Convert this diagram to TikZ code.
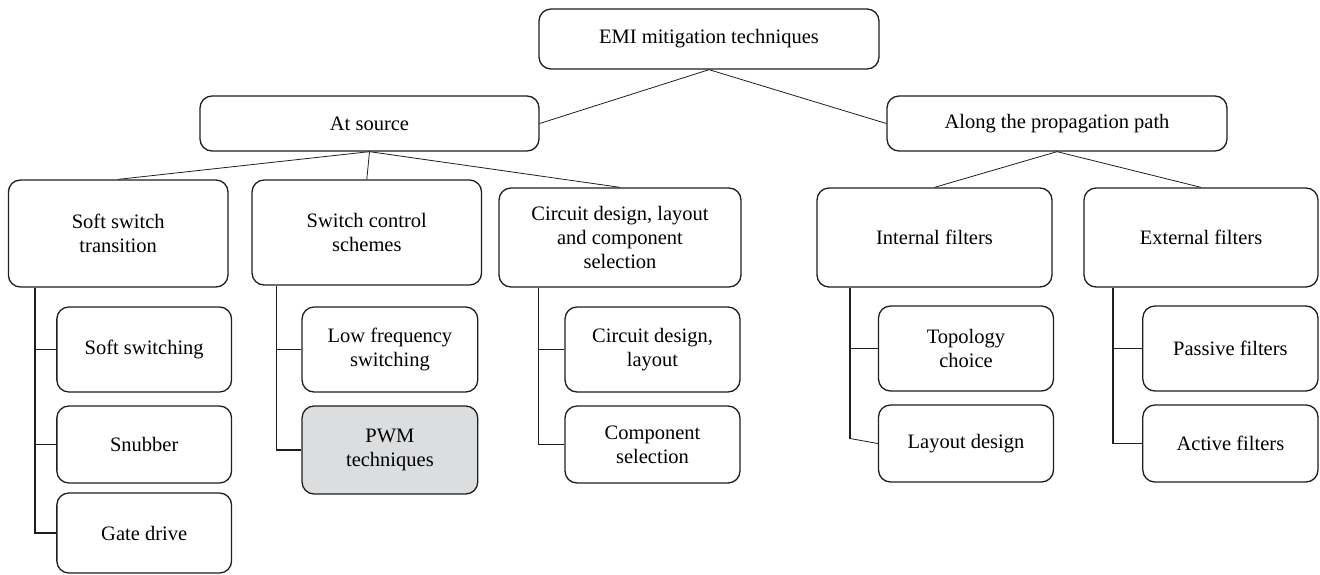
\documentclass[tikz,border=0pt]{standalone}
\usepackage{fontspec}
\setmainfont{Liberation Serif}
\definecolor{pwmgray}{RGB}{220,221,223}
\definecolor{inkline}{RGB}{30,30,30}
\begin{document}
\begin{tikzpicture}[x=1pt,y=-1pt,
  box/.style={draw=inkline, line width=1.3pt, rounded corners=12pt, inner sep=0pt,
    align=center, font=\fontsize{20.5}{24}\selectfont},
  link/.style={draw=inkline, line width=0.8pt},
  elbow/.style={draw=inkline, line width=1.3pt},
  elbowthin/.style={draw=inkline, line width=0.8pt}]
\useasboundingbox (0,0) rectangle (1320,574);

% top level
\node[box, minimum width=340pt, minimum height=60pt] (emi) at (709,39) {EMI mitigation techniques};

% second level
\node[box, minimum width=339pt, minimum height=55pt] (src) at (369.5,123.5) {At source};
\node[box, minimum width=340pt, minimum height=55pt] (path) at (1057,123.5) {Along the propagation path};

% third level
\node[box, minimum width=219.6pt, minimum height=107pt] (sst) at (118.2,233.5) {Soft switch\\transition};
\node[box, minimum width=229.5pt, minimum height=105pt] (scs) at (366.8,232.5) {Switch control\\schemes};
\node[box, minimum width=242pt, minimum height=99pt] (cdl) at (620,237.5) {Circuit design, layout\\and component\\selection};
\node[box, minimum width=235pt, minimum height=99pt] (inf) at (934.5,237.5) {Internal filters};
\node[box, minimum width=234pt, minimum height=99pt] (exf) at (1201,237.5) {External filters};

% leaves
\node[box, minimum width=174.7pt, minimum height=85pt] (sosw) at (144.2,349.5) {Soft switching};
\node[box, minimum width=174.7pt, minimum height=77pt] (snub) at (144.2,444.5) {Snubber};
\node[box, minimum width=174.7pt, minimum height=80pt] (gate) at (144.2,533) {Gate drive};

\node[box, minimum width=175.7pt, minimum height=85pt] (lfs) at (389.9,349.5) {Low frequency\\switching};
\node[box, minimum width=175.7pt, minimum height=88pt, fill=pwmgray] (pwm) at (389.9,450) {PWM\\techniques};

\node[box, minimum width=175pt, minimum height=85pt] (cdes) at (652.5,349.5) {Circuit design,\\layout};
\node[box, minimum width=175pt, minimum height=77pt] (csel) at (652.5,444.5) {Component\\selection};

\node[box, minimum width=175pt, minimum height=85pt] (topo) at (966,348.5) {Topology\\choice};
\node[box, minimum width=175pt, minimum height=77pt] (lay) at (966,443.5) {Layout design};

\node[box, minimum width=175.2pt, minimum height=85pt] (pasf) at (1230.4,348.5) {Passive filters};
\node[box, minimum width=175.2pt, minimum height=77pt] (actf) at (1230.4,443.5) {Active filters};

% tree links
\draw[link] (emi.south) -- (src.east);
\draw[link] (emi.south) -- (path.west);
\draw[link] (src.south) -- (sst.north);
\draw[link] (src.south) -- (scs.north);
\draw[link] (src.south) -- (cdl.north);
\draw[link] (path.south) -- (inf.north);
\draw[link] (path.south) -- (exf.north);

% vertical rails of the elbow connectors
\coordinate (r1) at (35,0);
\coordinate (r2) at (276.5,0);
\coordinate (r3) at (538.8,0);
\coordinate (r4) at (850,0);
\coordinate (r5) at (1113,0);

\draw[elbow] (sst.south -| r1) |- (gate.west);
\draw[elbow] (sst.south -| r1) |- (snub.west);
\draw[elbowthin] (sosw.west -| r1) -- (sosw.west);

\draw[elbow] (scs.south -| r2) |- (pwm.west);
\draw[elbowthin] (lfs.west -| r2) -- (lfs.west);

\draw[elbow] (cdl.south -| r3) |- (csel.west);
\draw[elbowthin] (cdes.west -| r3) -- (cdes.west);

\draw[elbow] (inf.south -| r4) |- (topo.west);
\draw[elbow] (inf.south -| r4) -- ([yshift=5pt]lay.west -| r4);
\draw[elbowthin] ([yshift=5pt]lay.west -| r4) -- (lay.west);

\draw[elbow] (exf.south -| r5) |- (actf.west);
\draw[elbow] (exf.south -| r5) |- (pasf.west);
\end{tikzpicture}
\end{document}
